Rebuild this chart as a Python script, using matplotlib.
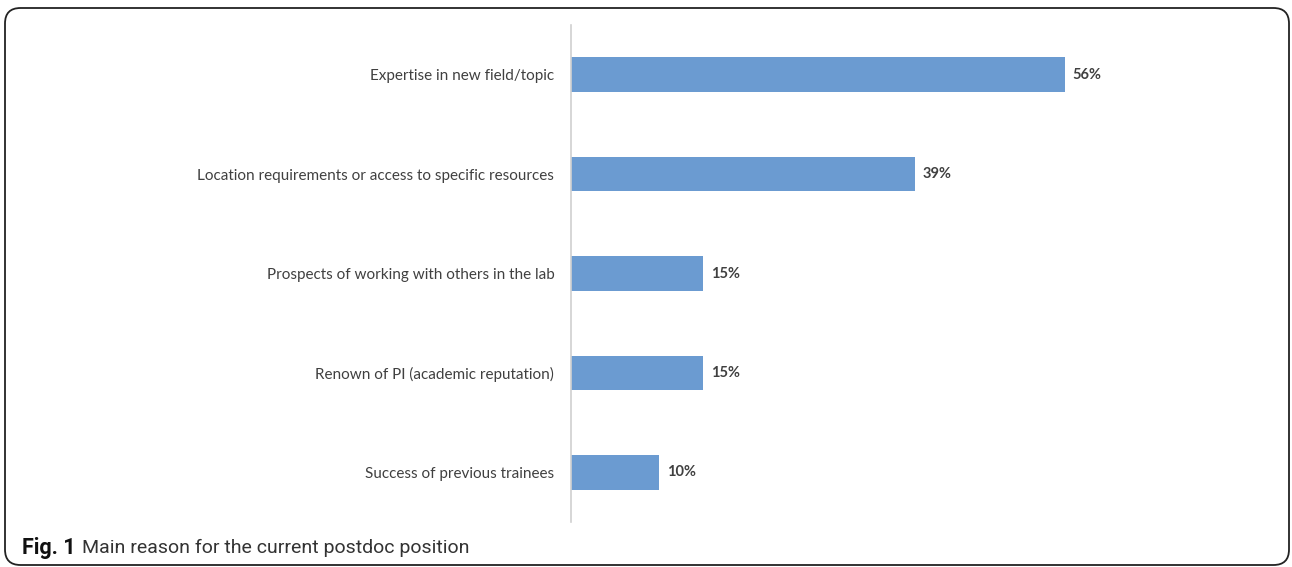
import matplotlib.pyplot as plt
from matplotlib.patches import FancyBboxPatch

reasons = [
    "Expertise in new field/topic",
    "Location requirements or access to specific resources",
    "Prospects of working with others in the lab",
    "Renown of PI (academic reputation)",
    "Success of previous trainees",
]
shares = [56, 39, 15, 15, 10]

BAR = "#6b9bd1"
TXT = "#404040"

fig = plt.figure(figsize=(12.92, 5.67), dpi=100)

# rounded frame around the whole figure
frame = FancyBboxPatch((5 / 1292, 2 / 567), 1284 / 1292, 557 / 567,
                       boxstyle="round,pad=0,rounding_size=0.012",
                       transform=fig.transFigure, fill=False,
                       edgecolor="#222222", linewidth=1.3, mutation_aspect=1292 / 567)
fig.patches.append(frame)

ax = fig.add_axes([571 / 1292, 45 / 567, 529 / 1292, 497 / 567])
ypos = list(range(len(reasons)))
ax.barh(ypos, shares, height=0.35, color=BAR)
ax.set_ylim(len(reasons) - 0.5, -0.5)
ax.set_xlim(0, 60)

ax.set_yticks(ypos)
ax.set_yticklabels(reasons, fontsize=11, color=TXT, family="Lato")
ax.tick_params(axis="y", length=0, pad=12)
ax.set_xticks([])

for s in ["top", "right", "bottom"]:
    ax.spines[s].set_visible(False)
ax.spines["left"].set_color("#d0d0d0")
ax.spines["left"].set_linewidth(1.2)

for y, v in zip(ypos, shares):
    ax.text(v + 0.9, y, f"{v}%", va="center", ha="left", fontsize=10.5,
            fontweight="bold", color=TXT, family="Lato")

# caption: bold figure number followed by the title
cap_y = 1 - 548 / 567
t1 = fig.text(22 / 1292, cap_y, "Fig. 1", fontsize=15.5, fontweight="bold",
              family="Roboto", va="center", ha="left", color="#111111")
fig.canvas.draw()
bb = t1.get_window_extent()
fig.text((bb.x1 + 6) / 1292, cap_y, "Main reason for the current postdoc position",
         fontsize=14, family="Roboto", va="center", ha="left",
         color="#333333")

fig.savefig("out.png", dpi=100)
